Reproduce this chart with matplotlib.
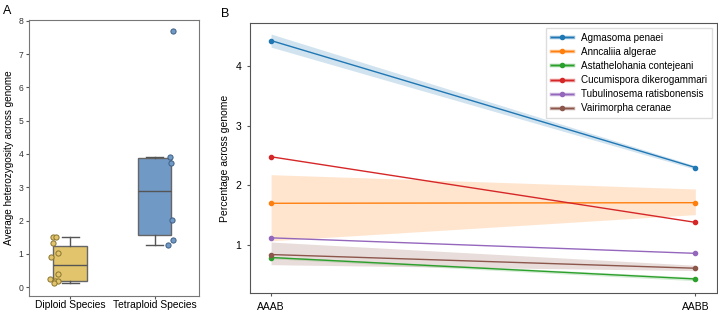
import matplotlib
matplotlib.use("Agg")
import matplotlib.pyplot as plt
from matplotlib.lines import Line2D
import numpy as np

plt.rcParams['font.family'] = ['Liberation Sans', 'DejaVu Sans']

# panel A data
groups = ["Diploid Species", "Tetraploid Species"]
diploid = [1.5, 1.5, 1.32, 1.02, 0.9, 0.4, 0.24, 0.18, 0.17, 0.11]
tetraploid = [7.71, 3.91, 3.74, 2.01, 1.42, 1.25]
diploid_jit = [-0.2, -0.17, -0.21, -0.15, -0.23, -0.14, -0.24, -0.18, -0.14, -0.19]
tetraploid_jit = [0.22, 0.18, 0.2, 0.21, 0.22, 0.16]
box_colors = ["#E2C46C", "#7099C5"]
dot_edges = ["#8a7430", "#3d5f85"]

# panel B data
conditions = ["AAAB", "AABB"]
species = ["Agmasoma penaei", "Anncaliia algerae", "Astathelohania contejeani",
           "Cucumispora dikerogammari", "Tubulinosema ratisbonensis", "Vairimorpha ceranae"]
means = [[4.43, 2.30], [1.70, 1.71], [0.79, 0.43], [2.48, 1.38], [1.12, 0.86], [0.84, 0.61]]
lows = [[4.32, 2.27], [1.07, 1.51], [0.77, 0.40], [2.48, 1.38], [1.12, 0.86], [0.67, 0.57]]
highs = [[4.54, 2.33], [2.18, 1.94], [0.81, 0.46], [2.48, 1.38], [1.12, 0.86], [1.05, 0.66]]
colors = ["#1f77b4", "#ff7f0e", "#2ca02c", "#d62728", "#9467bd", "#8c564b"]

fig = plt.figure(figsize=(7.18, 3.11), dpi=100)

# ---- A ----
ax = fig.add_axes([0.0404, 0.048, 0.237, 0.888])
bp = ax.boxplot([diploid, tetraploid], positions=[0, 1], widths=0.4, patch_artist=True,
                showfliers=False, whis=1.5)
for patch, c in zip(bp['boxes'], box_colors):
    patch.set_facecolor(c)
    patch.set_edgecolor("#666666")
    patch.set_linewidth(1.0)
for k in ['whiskers', 'caps', 'medians']:
    for l in bp[k]:
        l.set_color("#555555")
        l.set_linewidth(1.0)
ax.scatter(np.array(diploid_jit), diploid, s=14, facecolor=box_colors[0],
           edgecolor=dot_edges[0], linewidth=0.7, zorder=3)
ax.scatter(1 + np.array(tetraploid_jit), tetraploid, s=14, facecolor=box_colors[1],
           edgecolor=dot_edges[1], linewidth=0.7, zorder=3)
ax.set_xlim(-0.49, 1.53)
ax.set_ylim(-0.27, 8.03)
ax.set_yticks(range(0, 9))
ax.set_xticks([0, 1])
ax.set_xticklabels(groups, fontsize=7.4)
ax.tick_params(axis='y', labelsize=6.2, length=2, pad=2, color="#555555", labelcolor="#333333")
ax.tick_params(axis='x', length=2, pad=1.0, color="#555555")
ax.set_ylabel("Average heterozygosity across genome", fontsize=7.2, labelpad=3)
for s in ax.spines.values():
    s.set_color("#777777")
fig.text(0.004, 0.965, "A", fontsize=9, va='center')

# ---- B ----
bx = fig.add_axes([0.348, 0.057, 0.650, 0.870])
xs = np.arange(len(conditions))
handles = []
for name, m, lo, hi, c in zip(species, means, lows, highs, colors):
    bx.fill_between(xs, lo, hi, color=c, alpha=0.2, linewidth=0)
    bx.plot(xs, m, color=c, marker='o', markersize=3, linewidth=1)
    handles.append((Line2D([], [], color=c, alpha=0.5, linewidth=2.5),
                    Line2D([], [], color=c, marker='o', markersize=3, linewidth=1)))
bx.set_xticks(xs)
bx.set_xticklabels(conditions, fontsize=7.5)
bx.set_yticks([1, 2, 3, 4])
bx.set_ylim(0.19, 4.73)
bx.set_xlim(-0.05, 1.05)
bx.tick_params(labelsize=7.5, length=2.5, color="#555555")
bx.set_ylabel("Percentage across genome", fontsize=7.5)
for s in bx.spines.values():
    s.set_color("#555555")
bx.legend(handles, species, loc='upper right', fontsize=7.1, handlelength=2.2,
          labelspacing=0.42, borderpad=0.5, framealpha=1, edgecolor="#dddddd",
          fancybox=False)
fig.text(0.308, 0.955, "B", fontsize=9, va='center')

fig.savefig("out.png", dpi=100)
